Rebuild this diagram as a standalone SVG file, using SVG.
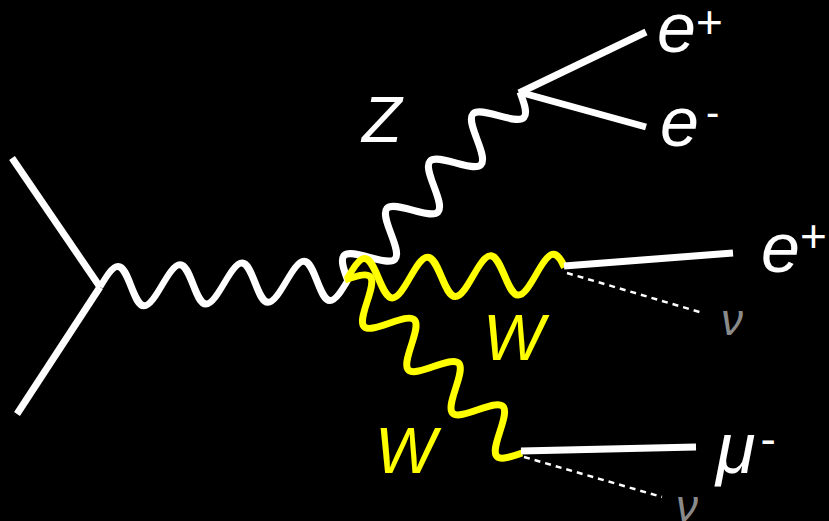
<svg xmlns="http://www.w3.org/2000/svg" width="829" height="521" viewBox="0 0 829 521">
<style>
.w{fill:none;stroke:#ffffff;stroke-width:7;stroke-linejoin:round}
.y{fill:none;stroke:#ffff00;stroke-width:7;stroke-linejoin:round}
.f{fill:none;stroke:#ffffff;stroke-width:7}
.nu{fill:none;stroke:#ffffff;stroke-width:2.5;stroke-dasharray:6 5}
text{font-family:"Liberation Sans",Arial,Helvetica,sans-serif;font-style:italic}
.tw{fill:#ffffff}
.ty{fill:#ffff00}
.tg{fill:#8a8a8a}
.sup{font-style:normal}
</style>
<defs>
<path id="wave" d="M0,0 C5.21,-10.25 10.19,-20 15.97,-20 S26.73,-10.25 31.94,0 S42.13,20 47.91,20 S58.67,10.25 63.88,0 S74.07,-20 79.85,-20 S90.61,-10.25 95.82,0 S106.01,20 111.79,20 S122.55,10.25 127.76,0 S137.95,-20 143.73,-20 S154.49,-10.25 159.7,0 S169.89,20 175.67,20 S186.43,10.25 191.64,0 S201.83,-20 207.61,-20 S218.37,-10.25 223.58,0 S233.77,20 239.55,20 S250.31,10.25 255.52,0"/>
</defs>
<rect x="0" y="0" width="829" height="521" fill="#000000"/>
<g id="connectors">
<line class="f" x1="12" y1="158" x2="100" y2="287"/>
<line class="f" x1="100" y1="287" x2="17" y2="414"/>
<use href="#wave" class="w" transform="translate(100,287) rotate(-1.6) scale(0.971,1) skewX(-8)"/>
<use href="#wave" class="w" transform="translate(348,281) rotate(-47.7)"/>
<line class="f" x1="519" y1="93" x2="646" y2="32"/>
<line class="f" x1="519" y1="92" x2="646" y2="127"/>
<path class="y" transform="translate(347,279) rotate(-1.3) scale(0.986,1) skewX(-6)" d="M0,0 C5.21,-10.25 10.19,-20 15.97,-20 S26.73,-10.25 31.94,0 S42.13,20 47.91,20 S58.67,10.25 63.88,0 S74.07,-20 79.85,-20 S90.61,-10.25 95.82,0 S106.01,20 111.79,20 S122.55,10.25 127.76,0 S137.95,-20 143.73,-20 S154.49,-10.25 159.7,0 S169.89,20 175.67,20 S186.43,10.25 191.64,0 S201.83,-20 207.61,-20 C211.71,-20 215.97,-14.5 220.07,-6.8"/>
<use href="#wave" class="y" transform="translate(345,280) rotate(44.35) scale(0.969,1)"/>
<line class="f" x1="564" y1="266" x2="733" y2="253"/>
<line class="nu" x1="567" y1="273" x2="703" y2="313"/>
<line class="f" x1="521" y1="451" x2="696" y2="447"/>
<line class="nu" x1="524" y1="457" x2="662" y2="497"/>
</g>
<g id="label-Z"><text class="tw" x="362" y="142" font-size="65">Z</text></g>
<g id="label-e-plus-top"><text class="tw" x="657" y="52" font-size="70">e<tspan class="sup" font-size="46" dy="-14">+</tspan></text></g>
<g id="label-e-minus"><text class="tw" x="660" y="146" font-size="70">e<tspan class="sup" font-size="40" dx="7" dy="-20">-</tspan></text></g>
<g id="label-e-plus"><text class="tw" x="761" y="272" font-size="70">e<tspan class="sup" font-size="46" dy="-20">+</tspan></text></g>
<g id="label-nu-1"><text class="tg" x="721" y="335" font-size="44">ν</text></g>
<g id="label-W-1"><text class="ty" x="483" y="360" font-size="65">W</text></g>
<g id="label-W-2"><text class="ty" x="375" y="473" font-size="65">W</text></g>
<g id="label-mu"><text class="tw" x="716" y="473" font-size="72">μ<tspan class="sup" font-size="46" dx="5" dy="-18">-</tspan></text></g>
<g id="label-nu-2"><text class="tg" x="676" y="521" font-size="44">ν</text></g>
</svg>
